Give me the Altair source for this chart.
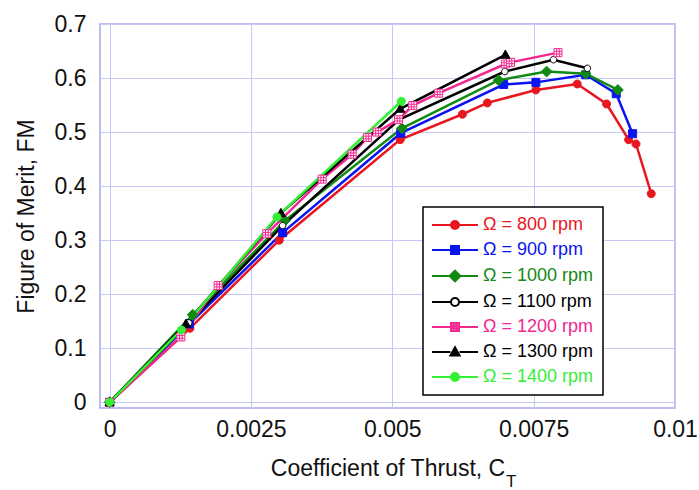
import altair as alt
import pandas as pd

labels = ["Ω = 800 rpm", "Ω = 900 rpm", "Ω = 1000 rpm", "Ω = 1100 rpm",
          "Ω = 1200 rpm", "Ω = 1300 rpm", "Ω = 1400 rpm"]
colors = ["#e8161e", "#0a14f0", "#128a12", "#000000", "#f02890", "#000000", "#33f033"]
fills = ["#e8161e", "#0a14f0", "#128a12", "#ffffff", "#ffffff", "#000000", "#33f033"]

ct_800 = [0, 0.00142, 0.0030, 0.00514, 0.00624, 0.00668, 0.00754, 0.00827, 0.00879, 0.00918, 0.00931, 0.00958]
fm_800 = [0, 0.137, 0.300, 0.486, 0.533, 0.554, 0.578, 0.589, 0.552, 0.486, 0.478, 0.386]
ct_900 = [0, 0.00141, 0.00306, 0.00515, 0.00697, 0.00754, 0.00842, 0.00896, 0.00925]
fm_900 = [0, 0.145, 0.314, 0.498, 0.588, 0.592, 0.606, 0.571, 0.497]
ct_1000 = [0, 0.00147, 0.0031, 0.00517, 0.00688, 0.00773, 0.00842, 0.00899]
fm_1000 = [0, 0.162, 0.336, 0.507, 0.596, 0.612, 0.608, 0.578]
ct_1100 = [0, 0.0014, 0.00306, 0.00512, 0.00699, 0.00785, 0.00845]
fm_1100 = [0, 0.147, 0.327, 0.523, 0.612, 0.634, 0.618]
ct_1200 = [0, 0.00126, 0.00192, 0.00278, 0.00376, 0.00429, 0.00456, 0.00473, 0.00511,
           0.00536, 0.00582, 0.0070, 0.00709, 0.00793]
fm_1200 = [0, 0.121, 0.216, 0.312, 0.413, 0.459, 0.490, 0.500, 0.523,
           0.549, 0.572, 0.626, 0.629, 0.647]
ct_1300 = [0, 0.00135, 0.00303, 0.00514, 0.0070]
fm_1300 = [0, 0.145, 0.350, 0.543, 0.643]
ct_1400 = [0, 0.00127, 0.00296, 0.00516]
fm_1400 = [0, 0.134, 0.343, 0.557]

x_ticks = [0, 0.0025, 0.005, 0.0075, 0.01]
y_ticks = [0, 0.1, 0.2, 0.3, 0.4, 0.5, 0.6, 0.7]
subscript = ["T"]

CIRCLE = "M-1,0A1,1 0 1,0 1,0A1,1 0 1,0 -1,0Z"
SQUARE = "M-1,-1H1V1H-1Z"
DIAMOND = "M0,-1.35L1.35,0L0,1.35L-1.35,0Z"
GRIDSQ = "M-1,-1H1V1H-1Z M-0.33,-1V1 M0.33,-1V1 M-1,-0.33H1 M-1,0.33H1"
TRIANGLE = "M0,-1.2L1.15,0.85L-1.15,0.85Z"
shapes = [CIRCLE, SQUARE, DIAMOND, CIRCLE, GRIDSQ, TRIANGLE, CIRCLE]
sizes = [64, 64, 64, 42, 64, 64, 64]
edge = [1, 1, 1.35, 0.9, 1, 1.15, 1]
legend_shapes = [f"M-5.75,0L-{e},0M{e},0L5.75,0" + s for s, e in zip(shapes, edge)]

xs = [ct_800, ct_900, ct_1000, ct_1100, ct_1200, ct_1300, ct_1400]
ys = [fm_800, fm_900, fm_1000, fm_1100, fm_1200, fm_1300, fm_1400]
rows = []
for lab, xv, yv in zip(labels, xs, ys):
    for i, (a, b) in enumerate(zip(xv, yv)):
        rows.append({"label": lab, "ct": a, "fm": b, "idx": i})
df = pd.DataFrame(rows)


def pick(vals, default):
    expr = f"'{default}'"
    for l, v in reversed(list(zip(labels, vals))):
        expr = f"datum.value === '{l}' ? '{v}' : ({expr})"
    return {"expr": expr}


FONT = "Liberation Sans"

x_enc = alt.X("ct:Q", scale=alt.Scale(domain=[-0.00017, 0.01], nice=False, zero=False),
              axis=alt.Axis(values=x_ticks, format=".4~f", title="Coefficient of Thrust, C",
                            labelPadding=10, titlePadding=16, labelOverlap=False,
                            labelFlush=False))
y_enc = alt.Y("fm:Q", scale=alt.Scale(domain=[-0.0105, 0.7], nice=False, zero=False),
              axis=alt.Axis(values=y_ticks, format=".1~f", title="Figure of Merit, FM",
                            labelPadding=14, titlePadding=16, labelOverlap=False,
                            labelFlush=False))

legend = alt.Legend(
    title=None, orient="none", legendX=323, legendY=183,
    strokeColor="black", fillColor="white", padding=9, titlePadding=0,
    symbolSize=64, symbolStrokeWidth=2, symbolOffset=14,
    symbolType=pick(legend_shapes, CIRCLE),
    symbolFillColor=pick(fills, "black"),
    labelColor=pick(colors, "black"),
    labelOffset=19, rowPadding=7,
    labelFont=FONT, labelFontSize=18, labelLimit=0,
)

stroke_scale = alt.Scale(domain=labels, range=colors)
base = alt.Chart(df)

lines = base.mark_line(strokeWidth=2.5).encode(
    x=x_enc, y=y_enc,
    stroke=alt.Stroke("label:N", scale=stroke_scale, legend=legend),
    order="idx:Q",
)

point_layers = []
for lab, shp, fl, sz, col in zip(labels, shapes, fills, sizes, colors):
    point_layers.append(
        base.transform_filter(alt.datum.label == lab)
        .mark_point(opacity=1, strokeWidth=1, shape=shp, fill=fl, size=sz, stroke=col)
        .encode(x=x_enc, y=y_enc)
    )

sub = alt.Chart(pd.DataFrame({"s": subscript})).mark_text(
    fontSize=17, font=FONT, align="left", baseline="middle", color="#111111"
).encode(text="s:N", x=alt.value(406), y=alt.value(458))

chart = alt.layer(lines, *point_layers, sub).properties(
    width=575, height=384,
    padding={"left": 100, "top": 24, "right": 24, "bottom": 82},
    autosize=alt.AutoSizeParams(type="none"),
).configure(font=FONT).configure_axis(
    labelFont=FONT, titleFont=FONT, labelFontSize=23, titleFontSize=23,
    titleFontWeight="normal", labelColor="#111111", titleColor="#111111",
    grid=True, gridColor="#c8c8f8", gridWidth=1, ticks=False, domain=False,
).configure_view(stroke="#a8a8ee", strokeWidth=1.5).configure_legend(strokeWidth=1.5)

chart.save("out.html", embed_options={"renderer": "svg", "actions": False})
